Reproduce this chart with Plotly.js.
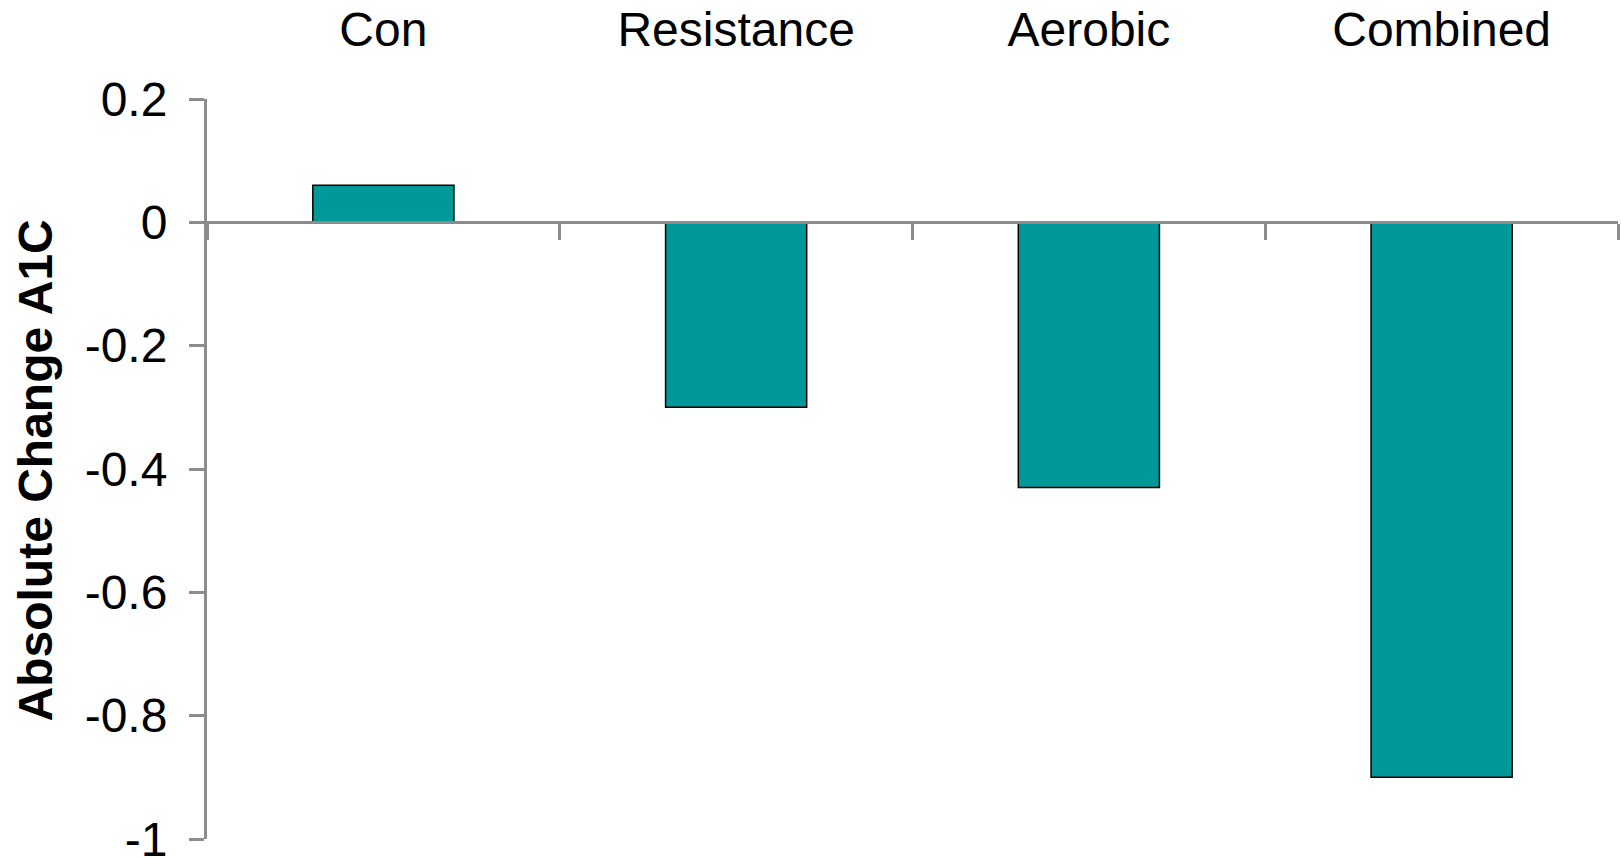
<!DOCTYPE html>
<html>
<head>
<meta charset="utf-8">
<script src="https://cdn.plot.ly/plotly-3.0.1.min.js"></script>
<style>
  html, body { margin: 0; padding: 0; background: #ffffff; }
  #chart { width: 1621px; height: 858px; }
</style>
</head>
<body>
<div id="chart"></div>
<script>
// Exercise groups and their mean absolute change in A1C
const groups = ['Con', 'Resistance', 'Aerobic', 'Combined'];
const a1cChange = [0.06, -0.30, -0.43, -0.90];

// Value axis
const yRange = [-1, 0.2];
const yTickVals = [-1, -0.8, -0.6, -0.4, -0.2, 0, 0.2];
const yTickText = ['-1', '-0.8', '-0.6', '-0.4', '-0.2', '0', '0.2'];
const yTitle = 'Absolute Change A1C';

const FONT = '"Liberation Sans", Arial, Helvetica, sans-serif';
const AXIS_GREY = '#8c8c8c';
const BAR_FILL = '#009999';

// fraction of the plot height where the zero line sits
const zeroPos = (0 - yRange[0]) / (yRange[1] - yRange[0]);

const bars = {
  type: 'bar',
  x: groups,
  y: a1cChange,
  xaxis: 'x',
  yaxis: 'y',
  marker: { color: BAR_FILL, line: { color: '#000000', width: 1.5 } },
  hoverinfo: 'x+y',
  showlegend: false
};

// carries the group names along the top edge
const topLabels = {
  type: 'scatter',
  mode: 'none',
  x: groups,
  y: a1cChange,
  xaxis: 'x2',
  yaxis: 'y',
  hoverinfo: 'skip',
  showlegend: false
};

const layout = {
  width: 1621,
  height: 858,
  margin: { l: 207, r: 3, t: 99, b: 19, pad: 0 },
  paper_bgcolor: '#ffffff',
  plot_bgcolor: '#ffffff',
  bargap: 0.6,
  showlegend: false,
  font: { family: FONT, color: '#000000' },
  xaxis: {
    type: 'category',
    range: [-0.5, groups.length - 0.5],
    anchor: 'free',
    position: zeroPos,
    side: 'bottom',
    showline: true,
    linecolor: AXIS_GREY,
    linewidth: 3,
    ticks: 'outside',
    tickson: 'boundaries',
    ticklen: 16,
    tickwidth: 3,
    tickcolor: AXIS_GREY,
    showticklabels: false,
    showgrid: false,
    zeroline: false,
    fixedrange: true
  },
  xaxis2: {
    type: 'category',
    overlaying: 'x',
    range: [-0.5, groups.length - 0.5],
    anchor: 'y',
    side: 'top',
    showline: false,
    ticks: '',
    showgrid: false,
    zeroline: false,
    ticklabelstandoff: 42,
    tickfont: { family: FONT, size: 48, color: '#000000' },
    fixedrange: true
  },
  yaxis: {
    range: yRange,
    tickvals: yTickVals,
    ticktext: yTickText,
    showline: true,
    linecolor: AXIS_GREY,
    linewidth: 3,
    ticks: 'outside',
    ticklen: 15,
    tickwidth: 3,
    tickcolor: AXIS_GREY,
    ticklabelstandoff: 12,
    ticklabeloverflow: 'allow',
    tickfont: { family: FONT, size: 48, color: '#000000' },
    showgrid: false,
    zeroline: false,
    fixedrange: true
  },
  annotations: [{
    text: '<b>' + yTitle + '</b>',
    xref: 'paper',
    yref: 'paper',
    x: -0.1219,
    y: 0.498,
    xanchor: 'center',
    yanchor: 'middle',
    textangle: -90,
    showarrow: false,
    font: { family: FONT, size: 48, color: '#000000' }
  }]
};

Plotly.newPlot('chart', [bars, topLabels], layout, { displayModeBar: false, staticPlot: true });
</script>
</body>
</html>
